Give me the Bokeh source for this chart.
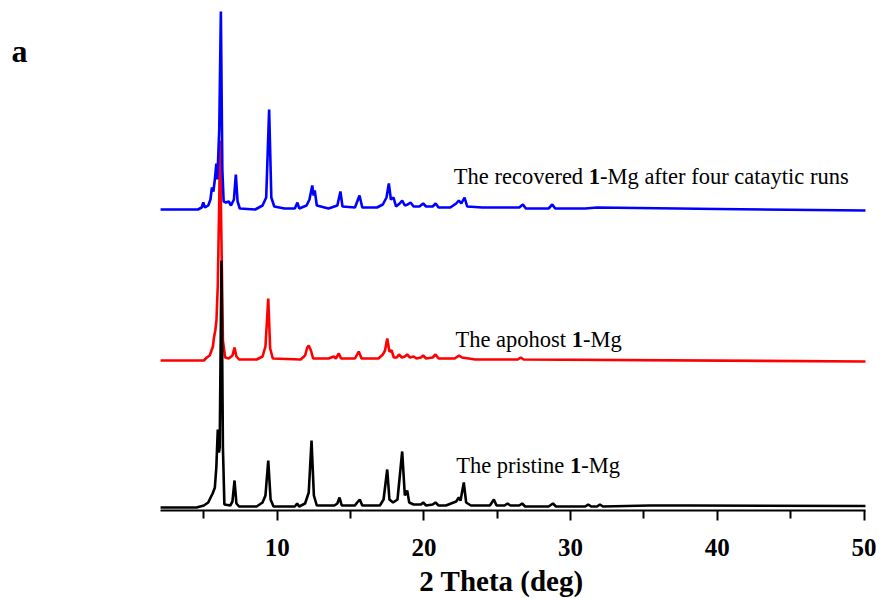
from bokeh.plotting import figure
from bokeh.models import Range1d, FixedTicker, Label
from bokeh.embed import file_html
from bokeh.resources import INLINE

# ---- data: (2theta, intensity above each trace's baseline) ----
blue_x = [2.05, 4.6, 4.85, 4.96, 5.07, 5.3, 5.45, 5.55, 5.65, 5.75, 5.85, 5.92, 6.05, 6.16, 6.26, 6.35,
          6.5, 6.7, 6.85, 7.05, 7.18, 7.3, 7.45, 8.5, 9.0, 9.25, 9.45, 9.6, 9.8, 10.5, 11.2, 11.38, 11.5,
          12.0, 12.2, 12.39, 12.48, 12.56, 12.7, 13.5, 14.1, 14.31, 14.45, 15.3, 15.61, 15.8, 16.8, 17.2,
          17.45, 17.61, 17.75, 17.93, 18.1, 18.35, 18.52, 18.7, 18.9, 19.09, 19.3, 19.7, 19.95, 20.15,
          20.6, 20.8, 21.0, 21.8, 22.2, 22.38, 22.55, 22.77, 22.95, 24.0, 25.0, 26.5, 26.75, 26.95, 28.5,
          28.75, 28.95, 31.0, 31.8, 40.0, 50.1]
blue_y = [0, 0, 2, 7, 2, 4, 10, 22, 18, 30, 46, 30, 80, 198, 40, 8,
          7, 8, 4, 10, 35, 8, 1, 0, 4, 12, 100, 12, 3, 1, 1, 7, 1,
          4, 10, 24, 14, 19, 4, 1, 4, 18, 3, 2, 14, 2, 2, 5,
          12, 26, 10, 12, 3, 6, 9, 4, 5, 7, 3, 3, 6, 3,
          3, 6, 2, 2, 6, 9, 6, 12, 3, 2, 2, 2, 5, 1, 1,
          5, 1, 1, 2, 0.5, -1]

red_x = [2.05, 5.0, 5.2, 5.4, 5.52, 5.62, 5.68, 5.78, 5.86, 5.95, 6.05, 6.1, 6.2, 6.3, 6.45, 6.7, 6.95,
         7.09, 7.22, 7.4, 8.6, 9.0, 9.2, 9.39, 9.52, 9.7, 11.6, 11.9, 12.05, 12.15, 12.3, 12.45, 13.5,
         13.86, 14.0, 14.2, 14.35, 15.3, 15.56, 15.75, 16.9, 17.2, 17.35, 17.5, 17.65, 17.8, 17.95, 18.15,
         18.3, 18.5, 18.7, 18.86, 19.05, 19.3, 19.5, 19.8, 19.95, 20.15, 20.6, 20.79, 21.0, 22.1, 22.4,
         22.6, 23.5, 26.4, 26.6, 26.8, 50.1]
red_y = [0, 0, 3, 5, 10, 14, 22, 30, 40, 75, 160, 220, 120, 20, 3, 2, 5,
         13, 4, 1, 1, 4, 14, 62, 12, 2, 1, 5, 13, 15, 10, 2, 2,
         4, 2, 7, 2, 2, 9, 2, 2, 6, 10, 22, 9, 10, 3, 3,
         6, 3, 4, 6, 3, 4, 2, 3, 5, 2, 3, 6, 2, 2, 5,
         3, 1, 1, 3, 1, -1]

black_x = [2.05, 4.5, 5.0, 5.3, 5.46, 5.6, 5.75, 5.85, 5.95, 6.03, 6.08, 6.2, 6.3, 6.4, 6.8, 6.95, 7.09,
           7.22, 7.4, 8.6, 9.0, 9.2, 9.39, 9.55, 9.75, 11.2, 11.36, 11.5, 11.9, 12.15, 12.34, 12.5, 12.7,
           13.9, 14.1, 14.25, 14.4, 15.3, 15.45, 15.63, 15.8, 17.0, 17.25, 17.5, 17.65, 17.9, 18.2, 18.52,
           18.7, 18.86, 19.0, 19.3, 19.8, 19.95, 20.15, 20.6, 20.79, 21.0, 21.5, 22.2, 22.38, 22.5, 22.72,
           22.88, 23.2, 24.5, 24.77, 24.95, 25.5, 25.7, 25.9, 26.5, 26.7, 26.9, 28.5, 28.8, 29.0, 31.0,
           31.2, 31.4, 31.8, 32.0, 32.2, 35.4, 38.2, 50.1]
black_y = [0, 0, 2, 5, 10, 14, 20, 40, 78, 55, 60, 247, 60, 3, 2, 6, 27,
           4, 1, 1, 5, 12, 47, 8, 1, 1, 4, 1, 4, 15, 67, 12, 2,
           2, 4, 10, 2, 2, 5, 8, 2, 2, 8, 38, 8, 5, 8, 56,
           12, 17, 5, 3, 3, 5, 2, 3, 5, 2, 2, 6, 10, 7, 25,
           5, 2, 2, 8, 2, 2, 4, 2, 2, 4, 1, 1, 4, 1, 1,
           3, 1, 1, 3, 1, 2, 2, 1.5]

offsets = {"black": 0, "red": 147, "blue": 298}
major_ticks = [10, 20, 30, 40, 50]
minor_ticks = [5, 15, 25, 35, 45]
x_start, x_end = 2.05, 50.1
axis_y = -3

SERIF = "Liberation Serif"
FS = 22.5  # px, trace label font size
PX_PER_DEG = 14.67
W, H = 880, 598
X0_PX = 276.7   # canvas px of 2theta = 10
Y0_PX = 507     # canvas px of intensity 0 (black baseline)

p = figure(frame_width=W, frame_height=H, min_border=0, output_backend="svg", toolbar_location=None,
           x_range=Range1d(10 - X0_PX / PX_PER_DEG, 10 + (W - X0_PX) / PX_PER_DEG),
           y_range=Range1d(Y0_PX - H, Y0_PX),
           y_axis_location=None, background_fill_color="white", border_fill_color="white")
p.outline_line_color = None
p.xgrid.visible = False
p.ygrid.visible = False

p.line(red_x, [v + offsets["red"] for v in red_y], line_color="#ff0000", line_width=2.6)
p.line(black_x, [v + offsets["black"] for v in black_y], line_color="#000000", line_width=2.6)
p.line(blue_x, [v + offsets["blue"] for v in blue_y], line_color="#0000ff", line_width=2.6)

ax = p.xaxis[0]
ax.fixed_location = axis_y
ax.bounds = (x_start, x_end)
ax.ticker = FixedTicker(ticks=major_ticks, minor_ticks=minor_ticks)
ax.axis_line_width = 2
ax.major_tick_line_width = 2
ax.minor_tick_line_width = 2
ax.major_tick_in = 0
ax.major_tick_out = 10
ax.minor_tick_in = 0
ax.minor_tick_out = 8
ax.major_label_text_font = SERIF
ax.major_label_text_font_style = "bold"
ax.major_label_text_font_size = "25px"
ax.major_label_text_color = "black"
ax.major_label_standoff = 18
ax.axis_label = None

p.add_layout(Label(x=25.29, y=-73, text="2 Theta (deg)", text_font=SERIF, text_font_size="29px",
                   text_font_style="bold", text_baseline="alphabetic", text_align="center",
                   text_color="black"))


def add_label(x, y, parts):
    off = 0.0
    for txt, bold, width_em in parts:
        p.add_layout(Label(x=x, y=y, x_offset=off, text=txt, text_font=SERIF,
                           text_font_size=f"{FS}px", text_font_style="bold" if bold else "normal",
                           text_baseline="alphabetic", text_align="left", text_color="black"))
        off += width_em * FS


add_label(22.04, 330.7, [("The recovered ", False, 5.997), ("1", True, 0.5),
                         ("-Mg after four cataytic runs", False, 0)])
add_label(22.15, 168.3, [("The apohost ", False, 5.166), ("1", True, 0.5), ("-Mg", False, 0)])
add_label(22.2, 41.7, [("The pristine ", False, 5.055), ("1", True, 0.5), ("-Mg", False, 0)])

p.add_layout(Label(x=-8.11, y=456.7, text="a", text_font=SERIF, text_font_size="32px",
                   text_font_style="bold", text_baseline="alphabetic", text_align="left",
                   text_color="black"))

open("out.html", "w").write(file_html(p, INLINE))
